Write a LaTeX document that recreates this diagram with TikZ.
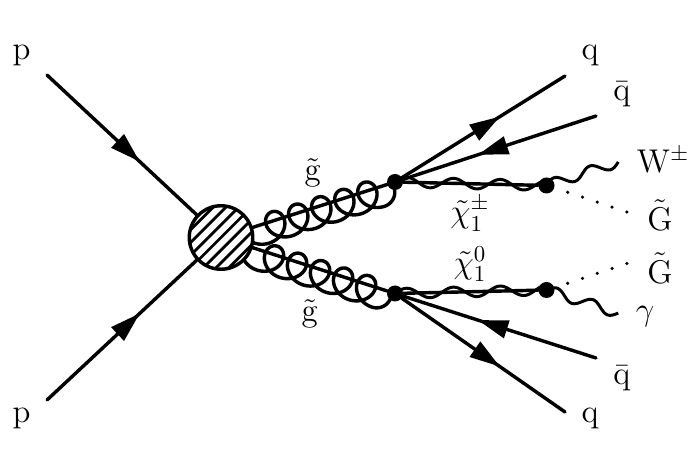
\documentclass[tikz,border=0pt]{standalone}
\usepackage{amsmath}
\usetikzlibrary{arrows.meta,calc,decorations.markings}
\newcommand\alongpath[3]{%
  \path let \p1=($(#2)-(#1)$),\n1={veclen(\x1,\y1)},\n2={atan2(\y1,\x1)} in
    \pgfextra{\pgfmathsetmacro\Lpx{\n1/0.56693}\xdef\Lpx{\Lpx}\pgfmathsetmacro\Ang{\n2}\xdef\Ang{\Ang}};
  \begin{scope}[shift={(#1)},rotate=\Ang,x=0.02cm,y=0.02cm]#3\end{scope}}
% wavy boson: from, to, number of periods
\newcommand\bosonline[3]{\alongpath{#1}{#2}{\draw[photon] plot[smooth,domain=0:\Lpx,samples=90] (\x,{5*sin(360*(#3*(\x/\Lpx)))});}}
% gluon coil from the centre of the blob to a vertex
\newcommand\gluonline[2]{\alongpath{#1}{#2}{\draw[gluonst] plot[smooth,domain=-1.5708:33,samples=360,variable=\t]
  ({44.2+3.85*\t+15*sin(\t r)-4*max(\t-31.416,0)},{-(5.5+14.5*cos(\t r))});}}
\tikzset{
  x=0.02cm,y=-0.02cm,
  lineth/.style={line width=1.95pt,line cap=round},
  fermion/.style={lineth,postaction={decorate},decoration={markings,mark=at position #1 with {\arrow[line width=0pt]{Triangle[length=0.6cm,width=0.38cm]}}}},
  fermion/.default=0.6,
  plainline/.style={lineth},
  vert/.style={circle,fill=black,draw=none,inner sep=0pt,minimum size=0.32cm},
  gluonst/.style={line width=1.95pt},
  photon/.style={line width=1.7pt},
  scalar/.style={line width=2pt,dash pattern=on 0pt off 0.312cm,line cap=round},
  lab/.style={inner sep=0pt,scale=1.3,font=\fontsize{14.4}{16}\selectfont},
  blobst/.style={circle,draw=black,line width=1.95pt,inner sep=0pt,minimum size=1.27cm,fill=white,
    path picture={\foreach \d in {-72,-63,...,72} {
      \draw[line width=1.6pt] ([shift={(\d*1.41,0)}]path picture bounding box.center) ++(-60,60) -- ++(120,-120);}}},
}
\begin{document}
\begin{tikzpicture}
\useasboundingbox (0,0) rectangle (700,475);
\coordinate (p1) at (47,75);
\coordinate (p2) at (47,400);
\coordinate (bc) at (221,237.5);
\coordinate (v1c) at (395,182);
\coordinate (v2c) at (395,293.5);
\coordinate (c1c) at (546.5,185.5);
\coordinate (c2c) at (546.5,290);
\gluonline{bc}{v1c}
\gluonline{bc}{v2c}
\node[blobst] (blob) at (bc) {};
\node[vert] (v1) at (v1c) {};
\node[vert] (v2) at (v2c) {};
\node[vert] (c1) at (c1c) {};
\node[vert] (c2) at (c2c) {};
\coordinate (q1) at (565,76);
\coordinate (qb1) at (596,116);
\coordinate (q2) at (565,412);
\coordinate (qb2) at (596,358);
\coordinate (w) at (618,162);
\coordinate (ph) at (618,313);
\coordinate (g1s) at (567.7,192.3);
\coordinate (g1) at (628.5,212.6);
\coordinate (g2s) at (567.7,283.3);
\coordinate (g2) at (628.5,263);
\draw[fermion=0.62] (p1) -- (blob);
\draw[fermion=0.62] (p2) -- (blob);
\draw[plainline] (blob) -- (v1);
\draw[plainline] (blob) -- (v2);
\draw[fermion=0.6] (v1) -- (q1);
\draw[fermion=0.61] (qb1) -- (v1);
\draw[fermion=0.6] (v2) -- (q2);
\draw[fermion=0.61] (qb2) -- (v2);
\draw[plainline] (v1) -- (c1);
\draw[plainline] (v2) -- (c2);
\bosonline{v1c}{c1c}{3.25}
\bosonline{v2c}{c2c}{3.25}
\bosonline{c1c}{w}{2}
\bosonline{c2c}{ph}{2}
\draw[scalar] (g1s) -- (g1);
\draw[scalar] (g2s) -- (g2);
\node[lab] (tp1) at (21.5,55) {p};
\node[lab] (tp2) at (21.5,418) {p};
\node[lab] (tq1) at (590,55) {q};
\node[lab] (tqb1) at (622,94) {$\bar{\mathrm{q}}$};
\node[lab] (tw) at (663,160) {$\mathrm{W}^{\pm}$};
\node[lab] (tg1) at (660,215) {$\tilde{\mathrm{G}}$};
\node[lab] (tg2) at (660,268) {$\tilde{\mathrm{G}}$};
\node[lab] (tph) at (645,317) {$\gamma$};
\node[lab] (tqb2) at (622,378) {$\bar{\mathrm{q}}$};
\node[lab] (tq2) at (590,418) {q};
\node[lab] (tg3) at (313,173) {$\tilde{\mathrm{g}}$};
\node[lab] (tg4) at (310,314) {$\tilde{\mathrm{g}}$};
\node[lab] (tc1) at (470,214) {$\tilde{\chi}_1^{\pm}$};
\node[lab] (tc2) at (470,264) {$\tilde{\chi}_1^{0}$};
\end{tikzpicture}
\end{document}
